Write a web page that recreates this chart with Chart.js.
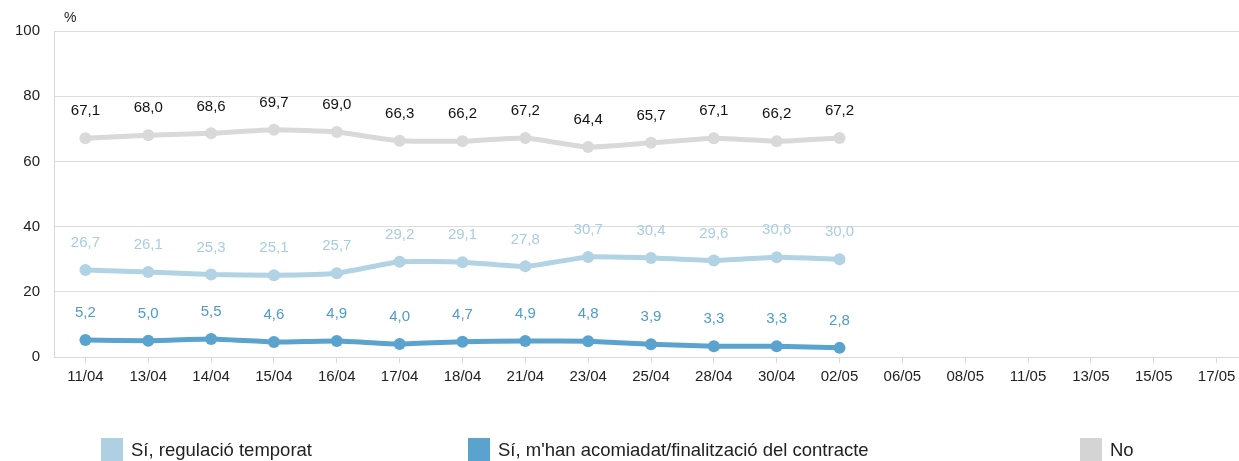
<!DOCTYPE html>
<html>
<head>
<meta charset="utf-8">
<script src="https://cdn.jsdelivr.net/npm/chart.js@4/dist/chart.umd.min.js"></script>
<style>
  html, body { margin:0; padding:0; overflow:hidden; background:#fff; }
  #wrap { position:relative; width:1254px; height:461px; }
  #legend { position:absolute; left:0; top:438px; width:1239px; height:23px; font-family:"Liberation Sans", Arial, sans-serif; font-size:18.5px; color:#222; }
  .item { position:absolute; top:0; display:flex; align-items:center; height:23px; }
  .box { width:22px; height:23px; margin-right:8px; }
</style>
</head>
<body>
<div id="wrap">
  <canvas id="c"></canvas>
  <div id="legend"></div>
</div>
<script>
const categories = ["11/04","13/04","14/04","15/04","16/04","17/04","18/04","21/04","23/04","25/04","28/04","30/04","02/05","06/05","08/05","11/05","13/05","15/05","17/05"];
const regulacio = [26.7, 26.1, 25.3, 25.1, 25.7, 29.2, 29.1, 27.8, 30.7, 30.4, 29.6, 30.6, 30.0];
const acomiadat = [5.2, 5.0, 5.5, 4.6, 4.9, 4.0, 4.7, 4.9, 4.8, 3.9, 3.3, 3.3, 2.8];
const no = [67.1, 68.0, 68.6, 69.7, 69.0, 66.3, 66.2, 67.2, 64.4, 65.7, 67.1, 66.2, 67.2];
const yTicks = [0, 20, 40, 60, 80, 100];
const seriesNames = ["Sí, regulació temporat", "Sí, m'han acomiadat/finalització del contracte", "No"];

const FONT = '"Liberation Sans", Arial, sans-serif';
const colors = ["#b1d3e3", "#5ba3cf", "#d9d9d9"];
const labelColors = ["#a9cde0", "#4f9ccb", "#111111"];
const legendColors = ["#aed0e2", "#5ba3cf", "#d4d4d4"];
const legendX = [101, 468, 1080];

const pad = (arr) => arr.concat(Array(categories.length - arr.length).fill(null));

const dataLabels = {
  id: 'dataLabels',
  afterDatasetsDraw(chart) {
    const ctx = chart.ctx;
    ctx.save();
    ctx.font = '15px ' + FONT;
    ctx.textAlign = 'center';
    ctx.textBaseline = 'middle';
    chart.data.datasets.forEach((ds, i) => {
      const meta = chart.getDatasetMeta(i);
      meta.data.forEach((pt, j) => {
        const v = ds.data[j];
        if (v === null || v === undefined) return;
        ctx.fillStyle = labelColors[i];
        ctx.fillText(v.toFixed(1).replace('.', ','), pt.x, pt.y - 27);
      });
    });
    ctx.fillStyle = '#222';
    ctx.textAlign = 'left';
    ctx.font = '14px ' + FONT;
    ctx.fillText('%', chart.chartArea.left + 10, chart.chartArea.top - 13);
    ctx.restore();
  }
};

const chart = new Chart(document.getElementById('c'), {
  type: 'line',
  data: {
    labels: categories,
    datasets: [
      { label: seriesNames[0], data: pad(regulacio), borderColor: colors[0], backgroundColor: colors[0], borderWidth: 5, pointRadius: 6, pointBorderWidth: 0, tension: 0.15 },
      { label: seriesNames[1], data: pad(acomiadat), borderColor: colors[1], backgroundColor: colors[1], borderWidth: 5, pointRadius: 6, pointBorderWidth: 0, tension: 0.15 },
      { label: seriesNames[2], data: pad(no), borderColor: colors[2], backgroundColor: colors[2], borderWidth: 5, pointRadius: 6, pointBorderWidth: 0, tension: 0.15 }
    ]
  },
  options: {
    responsive: true,
    maintainAspectRatio: false,
    animation: false,
    layout: { padding: { top: 31, bottom: 64, left: 0, right: 0 } },
    plugins: { legend: { display: false }, tooltip: { enabled: false } },
    scales: {
      x: {
        offset: true,
        grid: { offset: false, drawOnChartArea: false, drawTicks: true, tickLength: 6, color: '#d9d9d9' },
        border: { color: '#d9d9d9', width: 1 },
        ticks: { color: '#222', font: { family: FONT, size: 15 }, padding: 5, maxRotation: 0, autoSkip: false },
        afterFit(s) { s.height = 40; }
      },
      y: {
        min: 0, max: 100,
        afterBuildTicks(s) { s.ticks = yTicks.map(v => ({ value: v })); },
        grid: { color: '#dcdcdc', drawTicks: false },
        border: { color: '#d9d9d9', width: 1 },
        ticks: { color: '#222', font: { family: FONT, size: 15 }, padding: 14 },
        afterFit(s) { s.width = 54; }
      }
    }
  },
  plugins: [dataLabels]
});

const leg = document.getElementById('legend');
seriesNames.forEach((n, i) => {
  const d = document.createElement('div');
  d.className = 'item';
  d.style.left = legendX[i] + 'px';
  d.innerHTML = '<div class="box" style="background:' + legendColors[i] + '"></div><span></span>';
  d.querySelector('span').textContent = n;
  leg.appendChild(d);
});
</script>
</body>
</html>
